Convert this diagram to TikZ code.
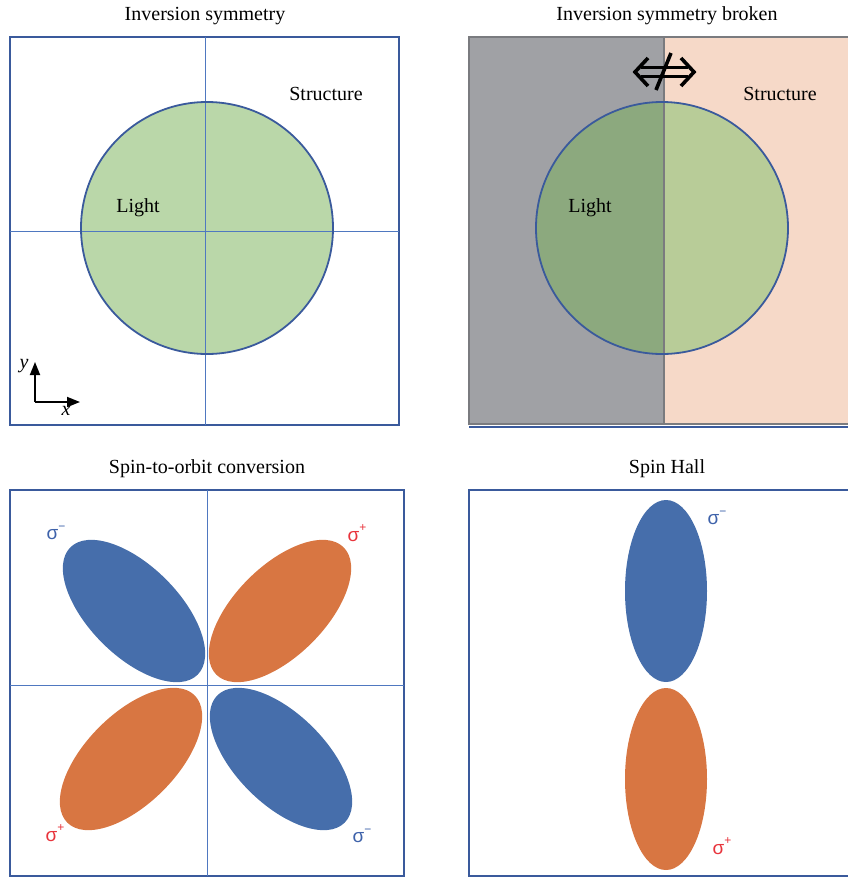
\documentclass[tikz,border=0pt]{standalone}
\usepackage{fontspec}
\setmainfont{Liberation Serif}
\newfontfamily\sigfont{Liberation Sans}
\usetikzlibrary{arrows.meta}
\definecolor{frameblue}{HTML}{3A5A9C}
\definecolor{axisblue}{HTML}{4F78C0}
\definecolor{lightgreen}{HTML}{BAD7A9}
\definecolor{darkgreen}{HTML}{8CA97E}
\definecolor{midgreen}{HTML}{B8CC98}
\definecolor{ellblue}{HTML}{466EAB}
\definecolor{ellorange}{HTML}{D87642}
\definecolor{greyfill}{HTML}{A0A1A5}
\definecolor{greyline}{HTML}{7A7B7F}
\definecolor{pinkfill}{HTML}{F6D9C8}
\definecolor{sigred}{HTML}{E8343C}
\definecolor{sigblue}{HTML}{3E62AA}
\newcommand{\sigm}{σ\raisebox{0.5em}{\fontsize{12}{12}\selectfont −}}
\newcommand{\sigp}{σ\raisebox{0.5em}{\fontsize{12}{12}\selectfont +}}
\tikzset{
  frame/.style={draw=frameblue, line width=2pt},
  crossline/.style={draw=axisblue, line width=1pt},
  title/.style={font=\fontsize{20}{22}\selectfont, inner sep=0pt},
  lbl/.style={font=\fontsize{20}{22}\selectfont, inner sep=0pt},
  sig/.style={font=\sigfont\fontsize{19}{22}\selectfont, inner sep=0pt},
  circ/.style={draw=frameblue, line width=1.8pt},
  ax/.style={line width=1.8pt, -{Triangle[length=13pt,width=10pt]}},
  neq/.style={line width=3.6pt, line join=miter},
}
\begin{document}
\begin{tikzpicture}[x=1pt,y=-1pt]
\useasboundingbox (0,0) rectangle (848,879);
% ---------- top-left ----------
\node[title] (t1) at (205,16) {Inversion symmetry};
\draw[frame] (10,37) rectangle (399,425);
\coordinate (c1) at (207,228);
\fill[lightgreen] (c1) circle (126);
\draw[crossline] (205,37) -- (205,425);
\draw[crossline] (10,231) -- (399,231);
\draw[circ] (c1) circle (126);
\node[lbl] (s1) at (326,94) {Structure};
\node[lbl] (l1) at (138,208) {Light};
\coordinate (o) at (35,402);
\coordinate (ya) at (35,362);
\coordinate (xa) at (80,402);
\draw[ax] (o) -- (ya);
\draw[ax] (o) -- (xa);
\node[lbl, font=\fontsize{20}{22}\selectfont\itshape] (ylab) at (24,366) {y};
\node[lbl, font=\fontsize{20}{22}\selectfont\itshape] (xlab) at (66,411) {x};
% ---------- top-right ----------
\node[title] (t2) at (667,16) {Inversion symmetry broken};
\fill[greyfill] (469,37) rectangle (664,424);
\fill[pinkfill] (664,37) rectangle (848,424);
\coordinate (c2) at (662,228);
\begin{scope}
  \clip (469,37) rectangle (664,424);
  \fill[darkgreen] (c2) circle (126);
\end{scope}
\begin{scope}
  \clip (664,37) rectangle (848,424);
  \fill[midgreen] (c2) circle (126);
\end{scope}
\draw[greyline, line width=2pt] (848,37) -- (469,37) -- (469,424) -- (848,424);
\draw[greyline, line width=2pt] (664,37) -- (664,424);
\draw[frameblue, line width=2pt] (469,427) -- (848,427);
\draw[circ] (c2) circle (126);
\node[lbl] (s2) at (780,94) {Structure};
\node[lbl] (l2) at (590,208) {Light};
% not-equivalent double arrow
\coordinate (al) at (635,72);
\coordinate (ar) at (694,72);
\draw[neq] (648,58) -- (al) -- (648,86);
\draw[neq] (681,58) -- (ar) -- (681,86);
\draw[neq] (641,67.5) -- (688,67.5);
\draw[neq] (641,76.5) -- (688,76.5);
\draw[neq] (656,90) -- (671,53);
% ---------- bottom-left ----------
\node[title] (t3) at (207,469) {Spin-to-orbit conversion};
\draw[frame] (10,490) rectangle (404,876);
\draw[crossline] (207,490) -- (207,876);
\draw[crossline] (10,685) -- (404,685);
\fill[ellblue, rotate around={-45:(134,611)}] (134,611) ellipse (90 and 45);
\fill[ellorange, rotate around={45:(280,611)}] (280,611) ellipse (90 and 45);
\fill[ellorange, rotate around={45:(131,759)}] (131,759) ellipse (90 and 45);
\fill[ellblue, rotate around={-45:(281,759)}] (281,759) ellipse (90 and 45);
\node[sig, text=sigblue] (a1) at (56,533) {\sigm};
\node[sig, text=sigred] (a2) at (357,533) {\sigp};
\node[sig, text=sigred] (a3) at (55,833) {\sigp};
\node[sig, text=sigblue] (a4) at (362,836) {\sigm};
% ---------- bottom-right ----------
\node[title] (t4) at (667,469) {Spin Hall};
\draw[frame] (848,490) -- (469,490) -- (469,876) -- (848,876);
\fill[ellblue] (666,591) ellipse (41 and 91);
\fill[ellorange] (666,779) ellipse (41 and 91);
\node[sig, text=sigblue] (b1) at (717,518) {\sigm};
\node[sig, text=sigred] (b2) at (722,846) {\sigp};
\end{tikzpicture}
\end{document}
